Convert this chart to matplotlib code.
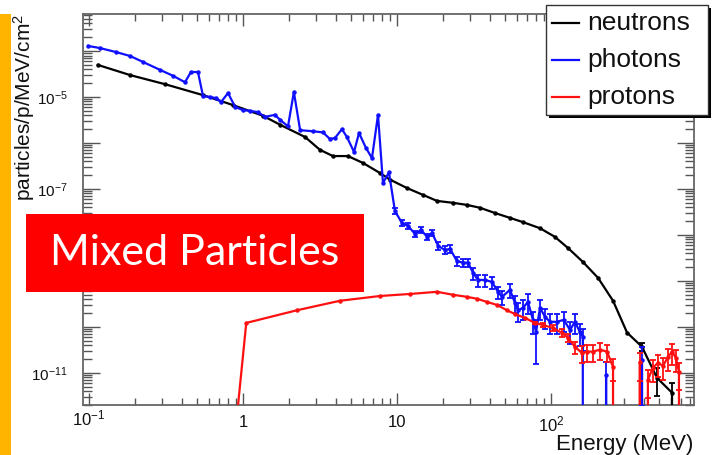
import matplotlib
matplotlib.use("Agg")
import numpy as np
import matplotlib.pyplot as plt
from matplotlib.patches import Rectangle
from matplotlib.lines import Line2D
from matplotlib.transforms import blended_transform_factory, offset_copy
from matplotlib.ticker import LogLocator, FixedLocator, FuncFormatter, NullFormatter

plt.rcParams["font.family"] = ["Liberation Sans", "DejaVu Sans"]
plt.rcParams["mathtext.fontset"] = "custom"
plt.rcParams["mathtext.rm"] = "Liberation Sans"
plt.rcParams["mathtext.it"] = "Liberation Sans:italic"

# ---- data (energy in MeV, flux in particles/p/MeV/cm^2)
neutron_E = [0.114, 0.185, 0.312, 0.55, 0.86, 1.35, 1.74, 2.53, 3.16, 3.84, 4.8,
             6.0, 7.8, 9.0, 11.6, 14.8, 18.2, 23.1, 28.5, 34.6, 43.3, 54.2, 65.8,
             84.9, 106, 129, 161, 202, 253, 312, 390, 488, 611, 640]
neutron_F = [5.0e-5, 3.0e-5, 1.9e-5, 1.1e-5, 6.7e-6, 3.9e-6, 2.5e-6, 1.35e-6,
             7.1e-7, 5.2e-7, 5.2e-7, 3.7e-7, 2.2e-7, 1.6e-7, 1.05e-7, 7.4e-8,
             5.5e-8, 5.0e-8, 4.5e-8, 3.9e-8, 3.0e-8, 2.35e-8, 1.9e-8, 1.4e-8,
             9.1e-9, 5.2e-9, 2.6e-9, 1.17e-9, 3.7e-10, 7.5e-11, 3.7e-11, 7.8e-12,
             3.7e-12, 0.0]
neutron_err = [0, 0, 0, 0, 0, 0, 0, 0, 0, 0, 0, 0, 0, 0, 0, 0, 0, 0, 0, 0, 0, 0,
               0, 0, 0, 0, 0, 0, 0, 0, 0.2, 0.6, 0.6, 0]

photon_E = [0.099, 0.118, 0.150, 0.185, 0.224, 0.289, 0.351, 0.420, 0.459, 0.510,
            0.550, 0.611, 0.668, 0.720, 0.80, 0.888, 1.0, 1.11, 1.25, 1.39,
            1.61, 1.74, 1.96, 2.14, 2.35, 2.85, 3.31, 3.67, 3.96, 4.39,
            4.73, 5.26, 5.67, 6.29, 6.88, 7.53, 8.11, 8.87, 9.70, 10.8,
            11.8, 13.1, 14.3, 15.7, 16.9, 18.5, 20.5, 22.1, 24.5, 26.8,
            28.9, 31.2, 33.6, 37.3, 41.4, 45.3, 48.1, 54.2, 58.4, 61.1,
            65.8, 70.9, 76.4, 80.0, 84.9, 91.5, 98.6, 109, 121, 133,
            143, 154, 161, 166, 200, 228, 260, 350, 390, 430]
photon_F = [1.29e-4, 1.16e-4, 9.5e-5, 7.8e-5, 5.8e-5, 3.9e-5, 2.9e-5, 2.1e-5, 3.5e-5, 3.5e-5,
            1.05e-5, 1.0e-5, 9.5e-6, 7.8e-6, 1.22e-5, 6.1e-6, 5.2e-6, 5.0e-6, 4.7e-6, 3.7e-6,
            4.1e-6, 3.2e-6, 2.3e-6, 1.29e-5, 1.9e-6, 1.8e-6, 1.7e-6, 1.22e-6, 1.29e-6, 2.0e-6,
            1.35e-6, 6.4e-7, 1.65e-6, 7.8e-7, 4.7e-7, 4.1e-6, 1.35e-7, 2.3e-7, 3.3e-8, 1.8e-8,
            1.57e-8, 1.05e-8, 1.29e-8, 9.1e-9, 1.1e-8, 5.8e-9, 4.7e-9, 5.0e-9, 2.7e-9, 2.5e-9,
            2.5e-9, 1.5e-9, 1.05e-9, 1.05e-9, 9.5e-10, 5.8e-10, 4.5e-10, 6.4e-10, 3.3e-10, 2.3e-10,
            2.6e-10, 3.5e-10, 1.42e-10, 7.8e-11, 2.6e-10, 1.65e-10, 1.29e-10, 1.29e-10, 1.42e-10, 8.6e-11,
            1.29e-10, 7.8e-11, 6.1e-11, 0.0, 0.0, 9.1e-12, 0.0, 0.0, 1.9e-11, 0.0]
photon_err = [0, 0, 0, 0, 0, 0, 0, 0, 0, 0,
              0, 0, 0, 0, 0, 0, 0, 0, 0, 0,
              0, 0, 0, 0, 0, 0, 0, 0, 0, 0,
              0, 0, 0, 0, 0, 0, 0, 0, 0.15, 0.15,
              0.15, 0.15, 0.15, 0.15, 0.15, 0.2, 0.2, 0.2, 0.2, 0.2,
              0.2, 0.3, 0.3, 0.3, 0.3, 0.3, 0.35, 0.35, 0.4, 0.45,
              0.45, 0.45, 0.5, 0.8, 0.45, 0.45, 0.45, 0.45, 0.45, 0.5,
              0.45, 0.5, 0.5, 0, 0, 0.9, 0, 0, 0.9, 0]

proton_E = [0.9, 1.05, 2.24, 4.26, 7.76, 12.1, 18.2, 23.1, 28.5, 33.0,
            38.4, 44.6, 51.8, 58.4, 67.8, 78.7, 88.7, 103, 118, 129,
            143, 159, 171, 187, 208, 231, 253, 260, 300, 378,
            407, 426, 459, 495, 534, 575, 611, 649, 678, 709]
proton_F = [7e-13, 1.22e-10, 2.3e-10, 3.7e-10, 4.7e-10, 5.2e-10, 5.8e-10, 5.0e-10, 4.5e-10, 4.1e-10,
            3.5e-10, 3.0e-10, 2.3e-10, 1.9e-10, 1.57e-10, 1.22e-10, 1.1e-10, 9.5e-11, 7.4e-11, 5.8e-11,
            3.7e-11, 2.7e-11, 2.9e-11, 2.9e-11, 3.2e-11, 2.9e-11, 1.35e-11, 0.0, 0.0, 1.7e-11,
            0.0, 7.1e-12, 1.29e-11, 1.65e-11, 1.42e-11, 2.2e-11, 2.9e-11, 2.1e-11, 1.05e-11, 0.0]
proton_err = [0, 0, 0, 0, 0, 0, 0, 0, 0, 0,
              0, 0, 0, 0, 0, 0.05, 0.1, 0.15, 0.2, 0.2,
              0.3, 0.4, 0.4, 0.4, 0.4, 0.4, 0.5, 0, 0, 0.6,
              0, 0.6, 0.5, 0.5, 0.5, 0.5, 0.5, 0.5, 0.6, 0]

series = [("neutrons", "black", neutron_E, neutron_F, neutron_err),
          ("photons", "#1010ff", photon_E, photon_F, photon_err),
          ("protons", "#ff1010", proton_E, proton_F, proton_err)]

x_ticks = [0.1, 1, 10, 100]
x_ticklabels = ["$10^{-1}$", "1", "10", "$10^{2}$"]
y_decades = list(range(-12, -2))
y_labelled = [-5, -7, -9, -11]

# ---- figure, laid out in reference pixels
W, H = 712, 455
fig = plt.figure(figsize=(W / 100, H / 100), dpi=100)
fig.patch.set_facecolor("white")


def fx(px):
    return px / W


def fy(py):
    return 1 - py / H


ax = fig.add_axes([fx(83), fy(405), fx(694) - fx(83), fy(14) - fy(405)])
ax.set_xscale("log")
ax.set_yscale("log")

for name, color, E, F, rel in series:
    E, F, rel = np.array(E), np.array(F), np.array(rel)
    ax.plot(E, F, color=color, linewidth=1.6, marker="o", markersize=2.2, zorder=3)
    m = rel > 0
    ax.errorbar(E[m], F[m], yerr=F[m] * rel[m], fmt="none", ecolor=color,
                elinewidth=1.3, capsize=2.4, capthick=1.3, zorder=3)

ax.set_xlim(0.0914, 849)
ax.set_ylim(2.0e-12, 6.4e-4)

# ROOT-ish axes: inward ticks on all four sides, grey frame
for s in ax.spines.values():
    s.set_color("#666666")
    s.set_linewidth(1.3)
ax.xaxis.set_major_locator(FixedLocator(x_ticks))
ax.xaxis.set_major_formatter(FuncFormatter(
    lambda v, pos: "" if v == x_ticks[0] else x_ticklabels[x_ticks.index(v)] if v in x_ticks else ""))
ax.xaxis.set_minor_locator(LogLocator(base=10, subs=np.arange(2, 10), numticks=50))
ax.xaxis.set_minor_formatter(NullFormatter())
ax.yaxis.set_major_locator(FixedLocator([10.0 ** k for k in y_decades]))
ax.yaxis.set_major_formatter(FuncFormatter(
    lambda v, pos: f"$10^{{{int(round(np.log10(v)))}}}$" if int(round(np.log10(v))) in y_labelled else ""))
ax.yaxis.set_minor_locator(LogLocator(base=10, subs=np.arange(2, 10), numticks=100))
ax.yaxis.set_minor_formatter(NullFormatter())

ax.tick_params(which="both", direction="in", top=True, right=True,
               color="#555555", width=1.0, labelcolor="#111111")
ax.tick_params(axis="x", which="major", length=8.6, pad=7, labelsize=12)
ax.tick_params(axis="x", which="minor", length=5)
ax.tick_params(axis="y", which="major", length=12, pad=11, labelsize=11)
ax.tick_params(axis="y", which="minor", length=6.5)

# the 10^-1 label sits higher in the reference
tr = offset_copy(blended_transform_factory(ax.transData, ax.transAxes), fig=fig, y=-3, units="dots")
ax.text(x_ticks[0], 0, x_ticklabels[0], transform=tr, ha="center", va="top",
        fontsize=12, color="#111111")

fig.text(fx(24), fy(14), "particles/p/MeV/cm$^2$", rotation=90, ha="center",
         va="top", fontsize=15, color="#111111")
fig.text(fx(693), fy(450), "Energy (MeV)", ha="right", va="baseline",
         fontsize=16, color="#111111")

# legend box with hard shadow
fig.add_artist(Rectangle((fx(549), fy(118)), fx(711) - fx(549), fy(8) - fy(118),
                         transform=fig.transFigure, facecolor="black", edgecolor="none", zorder=10))
fig.add_artist(Rectangle((fx(546), fy(115)), fx(708) - fx(546), fy(5) - fy(115),
                         transform=fig.transFigure, facecolor="white", edgecolor="#333333",
                         linewidth=1.0, zorder=11))
for (name, color, *_), ly in zip(series, [23, 60, 97]):
    fig.add_artist(Line2D([fx(552), fx(579)], [fy(ly), fy(ly)], transform=fig.transFigure,
                          color=color, linewidth=1.6, zorder=12))
    fig.text(fx(587), fy(ly), name, ha="left", va="center", fontsize=19,
             color="#111111", zorder=12)

# slide decorations
fig.add_artist(Rectangle((0, 0), fx(11), fy(14), transform=fig.transFigure,
                         facecolor="#ffb400", edgecolor="none", zorder=10))
fig.add_artist(Rectangle((fx(26), fy(292)), fx(364) - fx(26), fy(214) - fy(292),
                         transform=fig.transFigure, facecolor="#ff0000", edgecolor="none", zorder=10))
fig.text(fx(195), fy(253), "Mixed Particles", ha="center", va="center", fontsize=31,
         family="Lato", color="white", zorder=11)

fig.savefig("out.png", dpi=100, facecolor="white")
